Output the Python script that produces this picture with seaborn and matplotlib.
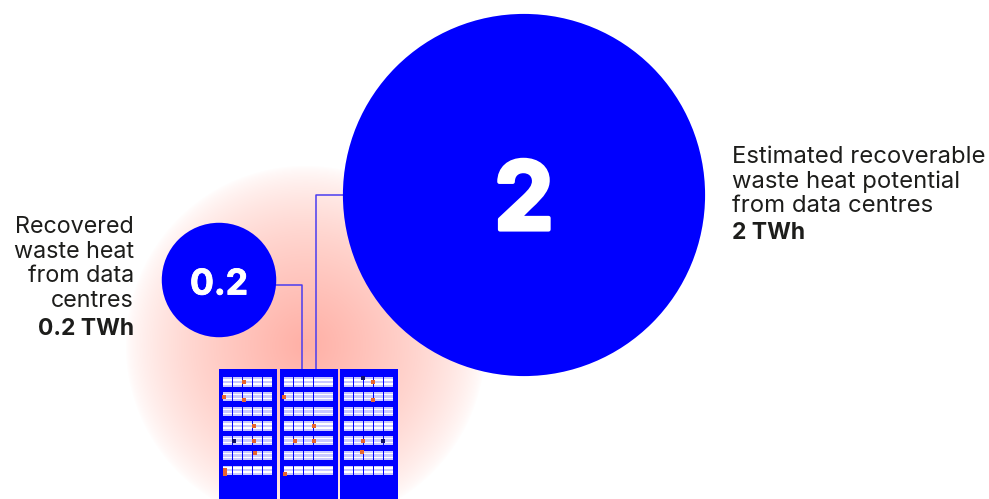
import numpy as np
import pandas as pd
import seaborn as sns
import matplotlib.pyplot as plt
import matplotlib.patheffects as pe
from matplotlib.colors import LinearSegmentedColormap
from matplotlib.patches import Rectangle

# values
labels = ["0.2", "2"]
values = [0.2, 2]
captions = ["Recovered\nwaste heat\nfrom data\ncentres", "Estimated recoverable\nwaste heat potential\nfrom data centres"]
totals = ["0.2 TWh", "2 TWh"]

BLUE = "#0000ff"
DARK = "#1d1d1b"

sns.set_theme(style="white")
plt.rcParams["font.family"] = ["Inter", "DejaVu Sans"]

fig = plt.figure(figsize=(9.89, 4.99), dpi=100)
ax = fig.add_axes([0, 0, 1, 1])

# glow behind the racks
yy, xx = np.mgrid[0:499, 0:989]
dist = np.hypot(xx - 305, yy - 345)
glow = np.clip(1 - dist / 180, 0, 1) ** 0.7
cmap = LinearSegmentedColormap.from_list("glow", ["#ffffff", "#ffd6d0", "#ffb0a6"])
ax.imshow(glow, cmap=cmap, extent=(0, 989, 499, 0), aspect="auto", zorder=0)

# connector lines
ax.plot([276, 302, 302], [285, 285, 370], color="#4a3cf0", lw=1.1, zorder=1)
ax.plot([343, 316, 316], [195, 195, 370], color="#4a3cf0", lw=1.1, zorder=1)

# circles, area follows the value
df = pd.DataFrame({"x": [219, 524], "y": [280, 195], "value": values})
sns.scatterplot(data=df, x="x", y="y", size="value", size_norm=(0.2, 2), sizes=(6792, 68000),
                color=BLUE, linewidth=0, legend=False, ax=ax, zorder=2)

bold = [pe.withStroke(linewidth=0.6, foreground="white")]
ax.text(219, 285, labels[0], color="white", fontsize=25.5, fontweight="bold", ha="center", va="center",
        zorder=3, path_effects=bold)
bold2 = [pe.withStroke(linewidth=3, foreground="white")]
ax.text(524, 205, labels[1], color="white", fontsize=68, fontweight="bold", ha="center", va="center",
        zorder=3, path_effects=bold2)

# server racks
for rack_x, rack_w in [(219, 58), (279.5, 58), (340, 58)]:
    ax.add_patch(Rectangle((rack_x, 369), rack_w, 130, color=BLUE, lw=0, zorder=2))
    for r in range(7):
        top = 377.3 + r * 14.7
        for c in range(5):
            cx = rack_x + 4.3 + c * 9.9
            ax.add_patch(Rectangle((cx, top), 9.1, 9.3, color="#c8c8ff", lw=0, zorder=3))
            ax.add_patch(Rectangle((cx, top + 1.8), 9.1, 1.5, color="white", lw=0, zorder=4))
            ax.add_patch(Rectangle((cx, top + 5.8), 9.1, 1.5, color="white", lw=0, zorder=4))

# small status lights
lx = [243.5, 224, 243.5, 253.5, 253.5, 254.5, 224.5, 224.5, 284, 314, 294.5, 314, 285, 373, 373, 363, 362]
ly = [382, 397, 400, 426, 441, 453, 470, 474, 397, 426, 441, 441, 474, 382, 400, 441, 452]
ax.scatter(lx, ly, s=5, marker="s", color="#e8642e", linewidths=0, zorder=5)
ax.scatter([234, 363, 382.5], [441, 378, 441], s=7, marker="s", color="#10106a", linewidths=0, zorder=5)

# captions
ax.text(134, 216, captions[0], color=DARK, fontsize=16.8, ha="right", va="top", linespacing=1.16)
ax.text(134, 318, totals[0], color=DARK, fontsize=16.5, fontweight="bold", ha="right", va="top")
ax.text(732, 146, captions[1], color=DARK, fontsize=17.2, ha="left", va="top", linespacing=1.13)
ax.text(732, 222, totals[1], color=DARK, fontsize=16.5, fontweight="bold", ha="left", va="top")

ax.set_xlim(0, 989)
ax.set_ylim(499, 0)
ax.axis("off")
fig.savefig("out.png", dpi=100)
